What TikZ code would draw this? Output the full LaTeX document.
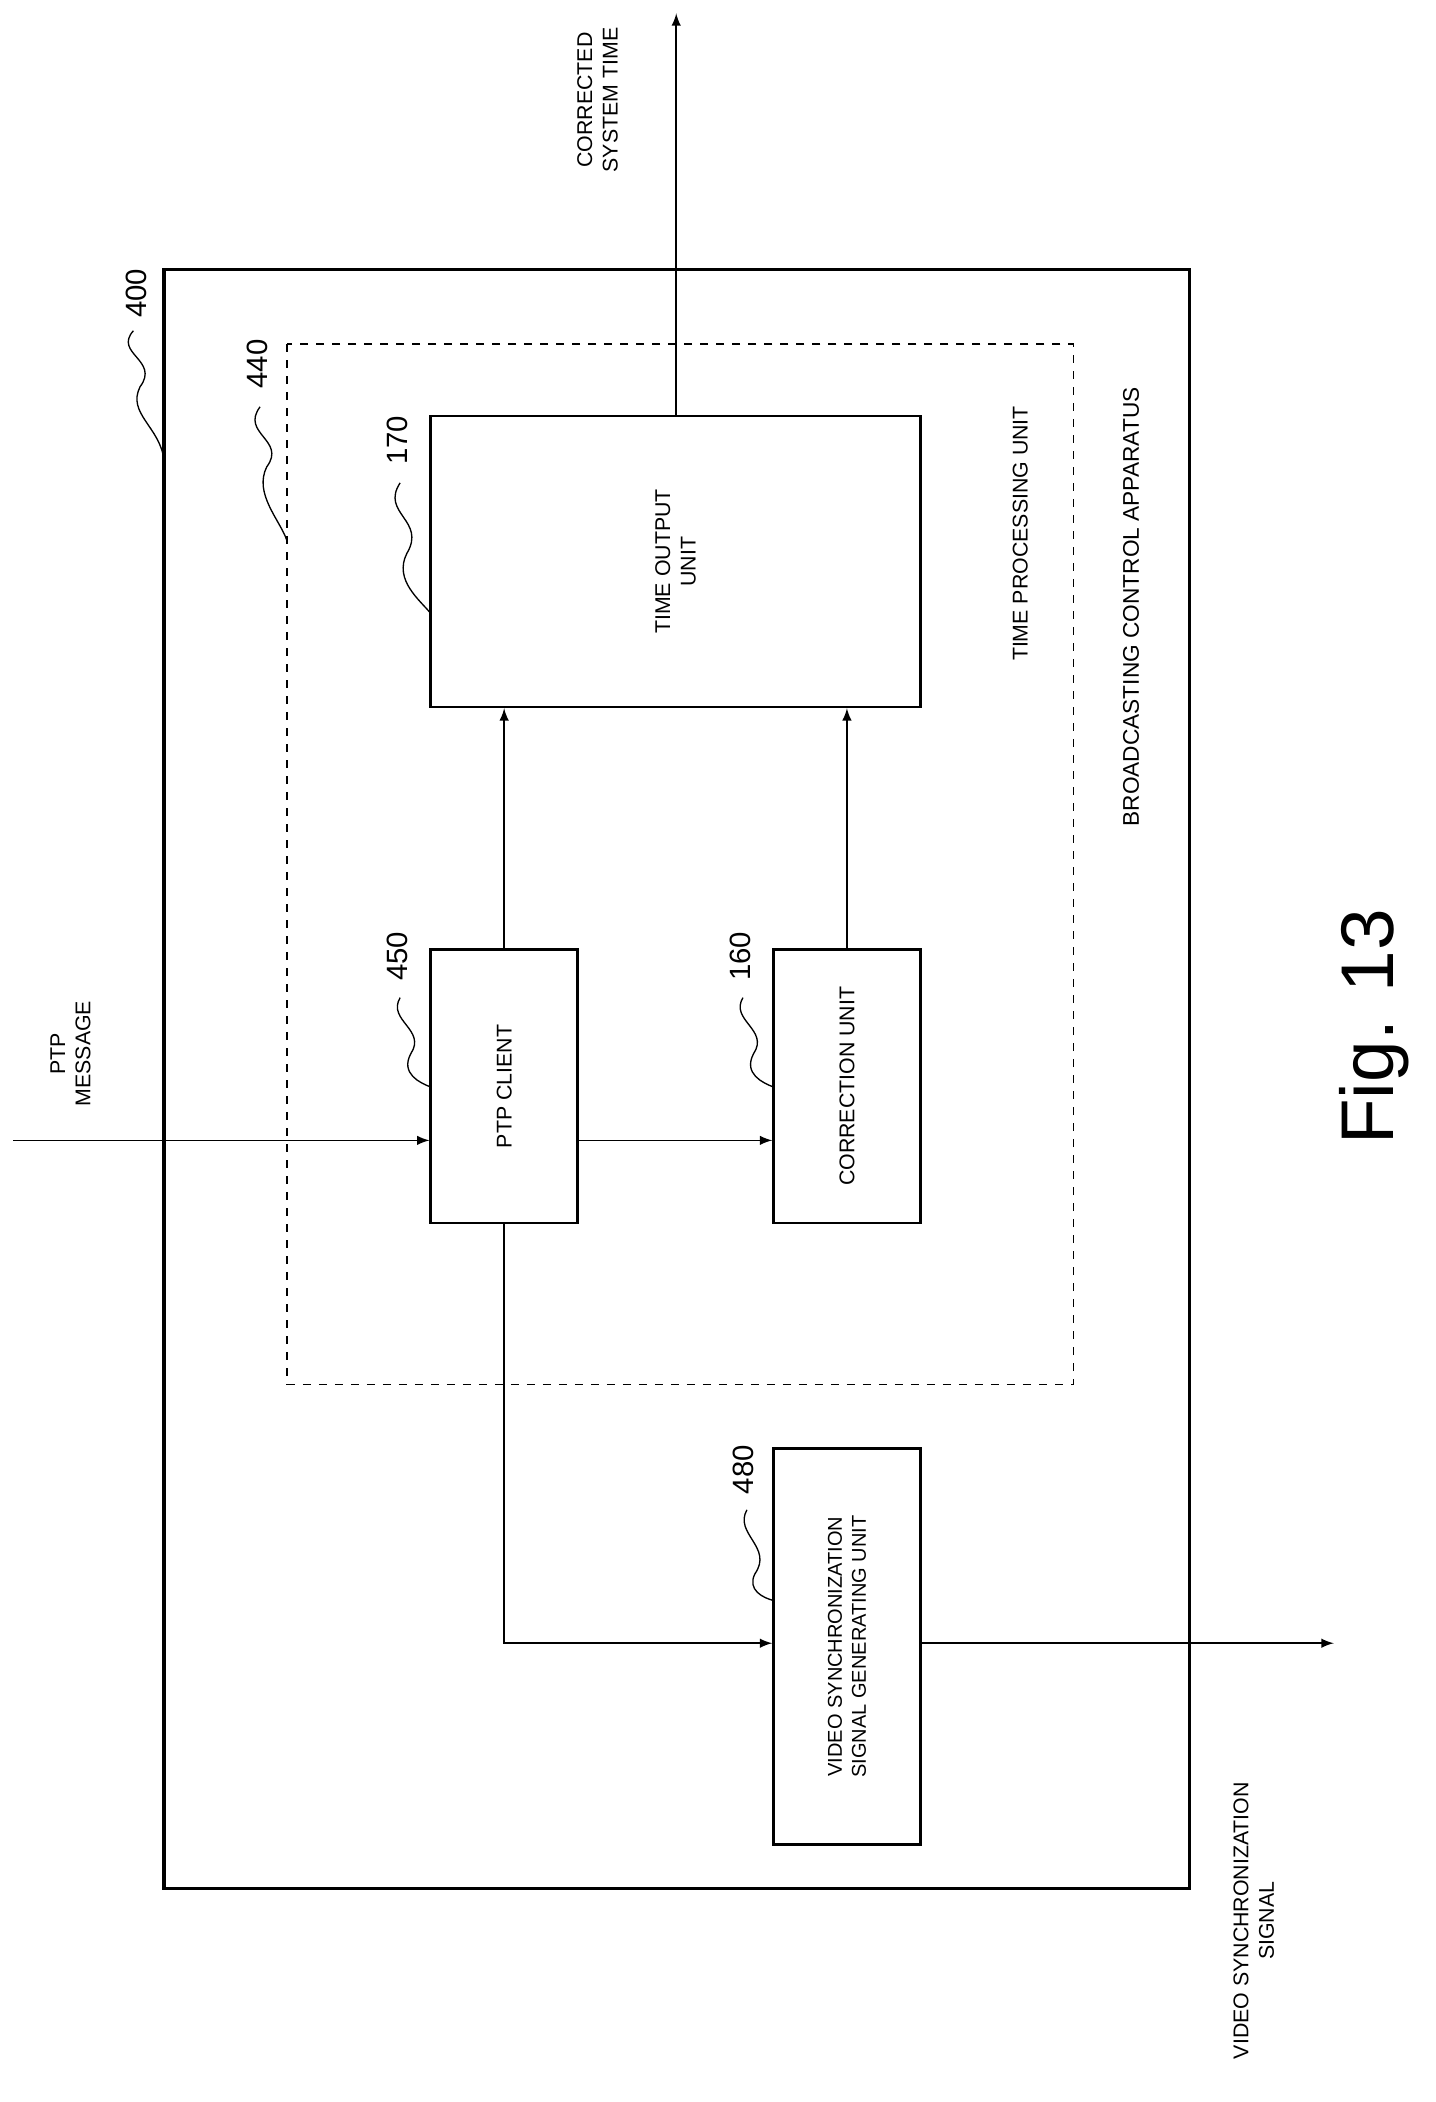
\documentclass[tikz,border=0pt]{standalone}
\usepackage{fontspec}
\setmainfont{Liberation Sans}
\begin{document}
\begin{tikzpicture}[x=0.5pt,y=-0.5pt,
  box/.style={draw,line width=1pt,inner sep=0pt},
  arr/.style={-latex,line width=0.6pt},
  txt/.style={rotate=90,font=\fontsize{8}{9.5}\selectfont,align=center},
  num/.style={rotate=90,font=\fontsize{11}{12}\selectfont},
  lead/.style={line width=0.5pt}]
\useasboundingbox (0,0) rectangle (1076,1576);
\draw[box,line width=1.3pt] (123,202) rectangle (892,1416);
\draw[dashed,line width=0.6pt] (215,258) rectangle (805,1038);
\node[box,minimum width=183.5pt,minimum height=109pt] (tou) at (506.5,421) {};
\node[txt] at (tou) {TIME OUTPUT\\UNIT};
\node[box,minimum width=55pt,minimum height=102.5pt] (ptp) at (378,814.5) {};
\node[txt] at (ptp) {PTP CLIENT};
\node[box,minimum width=55pt,minimum height=102.5pt] (cor) at (635,814.5) {};
\node[txt] at (cor) {CORRECTION UNIT};
\node[box,minimum width=55pt,minimum height=148.5pt] (vs) at (635,1234.5) {};
\node[txt,font=\fontsize{7.5}{9}\selectfont] at (vs) {VIDEO SYNCHRONIZATION\\SIGNAL GENERATING UNIT};
\coordinate (pin) at (10,855);
\coordinate (cout) at (507,10);
\coordinate (vout) at (1000,1232);
\coordinate (bend) at (378,1232);
\draw[arr] (pin) -- (ptp.west|-pin);
\draw[arr] (ptp.east|-pin) -- (cor.west|-pin);
\draw[arr] (ptp.north) -- (ptp.north|-tou.south);
\draw[arr] (cor.north) -- (cor.north|-tou.south);
\draw[arr] (tou.north-|cout) -- (cout);
\draw[arr] (ptp.south) -- (bend) -- (vs.west|-bend);
\draw[arr] (vs.east|-bend) -- (vout);
\node[txt,anchor=south] at (75,790) {PTP\\MESSAGE};
\node[txt] at (448,75) {CORRECTED\\SYSTEM TIME};
\node[txt] at (940,1440) {VIDEO SYNCHRONIZATION\\SIGNAL};
\node[txt,font=\fontsize{8.5}{10}\selectfont] at (848,455) {BROADCASTING CONTROL APPARATUS};
\node[txt] at (765,400) {TIME PROCESSING UNIT};
\node[num] at (102,220) {400};
\node[num] at (193,273) {440};
\node[num] at (298,330) {170};
\node[num] at (298,717) {450};
\node[num] at (555,717) {160};
\node[num] at (557,1102) {480};
\draw[lead] (100,248) .. controls (85,265) and (120,270) .. (105,290) .. controls (95,310) and (120,320) .. (123,345);
\draw[lead] (195,305) .. controls (180,325) and (215,330) .. (200,350) .. controls (190,370) and (210,390) .. (215,405);
\draw[lead] (300,362) .. controls (285,385) and (320,390) .. (305,415) .. controls (295,435) and (315,450) .. (323,460);
\draw[lead] (300,748) .. controls (290,765) and (320,772) .. (308,790) .. controls (300,805) and (315,812) .. (323,815);
\draw[lead] (557,748) .. controls (547,765) and (577,772) .. (565,790) .. controls (557,805) and (572,812) .. (580,815);
\draw[lead] (560,1132) .. controls (550,1150) and (580,1160) .. (566,1180) .. controls (560,1192) and (572,1198) .. (580,1200);
\node[rotate=90,font=\fontsize{28}{30}\selectfont] at (1030,770) {Fig. 13};
\end{tikzpicture}
\end{document}
